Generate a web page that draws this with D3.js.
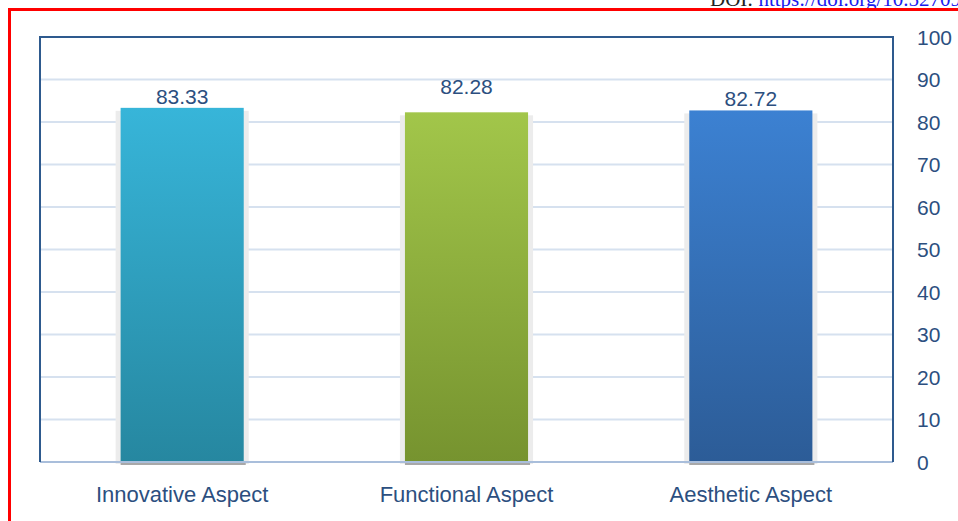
<!DOCTYPE html>
<html>
<head>
<meta charset="utf-8">
<script src="https://cdn.jsdelivr.net/npm/d3@7/dist/d3.min.js"></script>
<style>
  html, body { margin: 0; padding: 0; background: #fff; }
  svg { display: block; }
</style>
</head>
<body>
<svg id="chart" width="958" height="521"></svg>
<script>
// Scores per aspect
const categories = ["Innovative Aspect", "Functional Aspect", "Aesthetic Aspect"];
const values = [83.33, 82.28, 82.72];
const yTicks = [0, 10, 20, 30, 40, 50, 60, 70, 80, 90, 100];

// Bar gradient colours (top, bottom) and label nudges in px
const barTop = ["#37b5d9", "#a2c64a", "#3c81d2"];
const barBottom = ["#2687a0", "#76932f", "#2c5c97"];
const labelGap = [4, 18, 4];

const W = 958, H = 521;
const plot = { left: 40, right: 893, top: 37, bottom: 462 };
const textBlue = "#2c4f7f";
const font = "'Liberation Sans', Arial, sans-serif";

const svg = d3.select("#chart");

// Page frame and running header
svg.append("text")
  .attr("x", 710).attr("y", 6)
  .attr("font-family", "'Liberation Serif', serif")
  .attr("font-size", 21).attr("fill", "#222")
  .text("DOI: ")
  .append("tspan")
  .attr("fill", "#1a1aee")
  .attr("text-decoration", "underline")
  .text("https://doi.org/10.52709");
svg.append("path")
  .attr("d", `M9.5,${H} V9.5 H${W}`)
  .attr("fill", "none").attr("stroke", "#ff0000").attr("stroke-width", 3);

const x = d3.scaleBand()
  .domain(categories)
  .range([plot.left, plot.right])
  .paddingInner(0.567)
  .paddingOuter(0.2835);

const y = d3.scaleLinear().domain([0, 100]).range([plot.bottom, plot.top]);

const defs = svg.append("defs");
categories.forEach((c, i) => {
  const g = defs.append("linearGradient")
    .attr("id", "grad" + i)
    .attr("x1", 0).attr("y1", 0).attr("x2", 0).attr("y2", 1);
  g.append("stop").attr("offset", "0%").attr("stop-color", barTop[i]);
  g.append("stop").attr("offset", "100%").attr("stop-color", barBottom[i]);
});

// Horizontal gridlines
svg.append("g")
  .selectAll("line")
  .data(yTicks.filter(t => t > 0 && t < 100))
  .join("line")
  .attr("x1", plot.left).attr("x2", plot.right)
  .attr("y1", d => y(d)).attr("y2", d => y(d))
  .attr("stroke", "#d6e1ef").attr("stroke-width", 2);

// Bar shadows
const bars = svg.append("g");
bars.selectAll("rect.shadow")
  .data(values)
  .join("rect")
  .attr("class", "shadow")
  .attr("x", (d, i) => x(categories[i]) - 5)
  .attr("y", d => y(d) + 3)
  .attr("width", x.bandwidth() + 10)
  .attr("height", d => y(0) - y(d) - 1)
  .attr("fill", "#ececec");
bars.selectAll("rect.foot")
  .data(values)
  .join("rect")
  .attr("class", "foot")
  .attr("x", (d, i) => x(categories[i]))
  .attr("y", y(0))
  .attr("width", x.bandwidth() + 2)
  .attr("height", 3)
  .attr("fill", "#a8a8a8");

// Bars
bars.selectAll("rect.bar")
  .data(values)
  .join("rect")
  .attr("class", "bar")
  .attr("x", (d, i) => x(categories[i]))
  .attr("y", d => y(d))
  .attr("width", x.bandwidth())
  .attr("height", d => y(0) - y(d))
  .attr("fill", (d, i) => `url(#grad${i})`);

// Plot frame (top, left, right) and base line
svg.append("line")
  .attr("x1", plot.left).attr("x2", plot.right)
  .attr("y1", plot.bottom).attr("y2", plot.bottom)
  .attr("stroke", "#a9bedb").attr("stroke-width", 2);
svg.append("path")
  .attr("d", `M${plot.left},${plot.bottom} V${plot.top} H${plot.right} V${plot.bottom}`)
  .attr("fill", "none").attr("stroke", "#2e5a8e").attr("stroke-width", 2);

// Value labels
svg.append("g")
  .selectAll("text")
  .data(values)
  .join("text")
  .attr("x", (d, i) => x(categories[i]) + x.bandwidth() / 2)
  .attr("y", (d, i) => y(d) - labelGap[i])
  .attr("text-anchor", "middle")
  .attr("font-family", font).attr("font-size", 21)
  .attr("fill", textBlue)
  .text(d => d.toFixed(2));

// Right-hand value axis
const yAxis = d3.axisRight(y).tickValues(yTicks).tickSize(0).tickPadding(0);
const ya = svg.append("g")
  .attr("transform", `translate(917,0)`)
  .call(yAxis);
ya.select(".domain").remove();
ya.selectAll("text")
  .attr("font-family", font).attr("font-size", 21)
  .attr("fill", textBlue)
  .attr("dy", "0.35em");

// Category axis
const xAxis = d3.axisBottom(x).tickSize(0).tickPadding(0);
const xa = svg.append("g")
  .attr("transform", `translate(0,${plot.bottom + 24})`)
  .call(xAxis);
xa.select(".domain").remove();
xa.selectAll("text")
  .attr("font-family", font).attr("font-size", 22)
  .attr("fill", textBlue);
</script>
</body>
</html>
